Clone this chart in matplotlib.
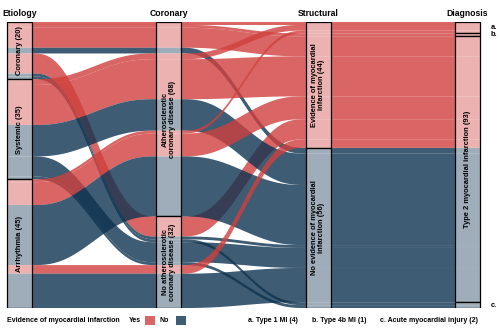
import matplotlib
matplotlib.use("Agg")
import matplotlib.pyplot as plt
from matplotlib.patches import Rectangle, Polygon
import numpy as np

plt.rcParams['font.family'] = ['Liberation Sans', 'DejaVu Sans']

# axes of the alluvial plot and their strata (top to bottom)
axis_titles = ['Etiology', 'Coronary', 'Structural', 'Diagnosis']
etiology_levels = ['Coronary', 'Systemic', 'Arrhythmia']
coronary_levels = ['Atherosclerotic', 'No atherosclerotic']
structural_levels = ['Yes', 'No']
diagnosis_levels = ['Type 1 MI', 'Type 4b MI', 'Type 2 MI', 'Acute myocardial injury']

stratum_labels = {
    ('Etiology', 'Coronary'): 'Coronary (20)',
    ('Etiology', 'Systemic'): 'Systemic (35)',
    ('Etiology', 'Arrhythmia'): 'Arrhythmia (45)',
    ('Coronary', 'Atherosclerotic'): 'Atherosclerotic\ncoronary disease (68)',
    ('Coronary', 'No atherosclerotic'): 'No atherosclerotic\ncoronary disease (32)',
    ('Structural', 'Yes'): 'Evidence of myocardial\ninfarction (44)',
    ('Structural', 'No'): 'No evidence of myocardial\ninfarction (56)',
    ('Diagnosis', 'Type 2 MI'): 'Type 2 myocardial infarction (93)',
}
side_labels = {'Type 1 MI': 'a.', 'Type 4b MI': 'b.', 'Acute myocardial injury': 'c.'}

# one entry per alluvium (patients sharing the same path)
etiology = ['Coronary', 'Coronary', 'Coronary', 'Coronary', 'Coronary', 'Coronary', 'Coronary',
            'Systemic', 'Systemic', 'Systemic', 'Systemic', 'Systemic',
            'Arrhythmia', 'Arrhythmia', 'Arrhythmia', 'Arrhythmia', 'Arrhythmia']
coronary = ['Atherosclerotic', 'Atherosclerotic', 'Atherosclerotic', 'Atherosclerotic',
            'No atherosclerotic', 'No atherosclerotic', 'No atherosclerotic',
            'Atherosclerotic', 'Atherosclerotic', 'Atherosclerotic', 'No atherosclerotic', 'No atherosclerotic',
            'Atherosclerotic', 'Atherosclerotic', 'Atherosclerotic', 'No atherosclerotic', 'No atherosclerotic']
structural = ['Yes', 'Yes', 'Yes', 'No', 'Yes', 'No', 'No',
              'Yes', 'Yes', 'No', 'No', 'No',
              'Yes', 'Yes', 'No', 'Yes', 'No']
diagnosis = ['Type 1 MI', 'Type 4b MI', 'Type 2 MI', 'Type 2 MI', 'Type 2 MI', 'Type 2 MI', 'Acute myocardial injury',
             'Type 1 MI', 'Type 2 MI', 'Type 2 MI', 'Type 2 MI', 'Acute myocardial injury',
             'Type 1 MI', 'Type 2 MI', 'Type 2 MI', 'Type 2 MI', 'Type 2 MI']
counts = [1, 1, 7, 2, 7, 1, 1,
          2, 14, 11, 7, 1,
          1, 8, 21, 3, 12]

red = '#D0403D'
blue = '#0E3350'
flow_alpha = 0.8

levels = [etiology_levels, coronary_levels, structural_levels, diagnosis_levels]
columns = [etiology, coronary, structural, diagnosis]
n = len(counts)
codes = np.array([[levels[k].index(columns[k][i]) for k in range(4)] for i in range(n)])

# lode ordering inside each stratum: zigzag over the other axes
guidance = {0: [1, 2, 3], 1: [0, 2, 3], 2: [3, 1, 0], 3: [2, 1, 0]}
tops = np.zeros((n, 4))
for k in range(4):
    idx = sorted(range(n), key=lambda i: (codes[i, k],) + tuple(codes[i, j] for j in guidance[k]))
    y = 0
    for i in idx:
        tops[i, k] = y
        y += counts[i]

xs = np.arange(1, 5)
w = 0.1675

fig = plt.figure(figsize=(5, 3.32), dpi=100)
ax = fig.add_axes([4.6 / 500, 1 - 308 / 332, 477.8 / 500, 286 / 332])
ax.set_xlim(0.9, 4.1)
ax.set_ylim(100, 0)
ax.axis('off')


def edge(ys):
    px, py = [], []
    for k in range(4):
        px += [xs[k] - w / 2, xs[k] + w / 2]
        py += [ys[k], ys[k]]
        if k < 3:
            t = np.linspace(0, 1, 60)[1:-1]
            s = t ** 3 * (10 - 15 * t + 6 * t ** 2)
            x0, x1 = xs[k] + w / 2, xs[k + 1] - w / 2
            px += list(x0 + (x1 - x0) * t)
            py += list(ys[k] + (ys[k + 1] - ys[k]) * s)
    return px, py


for i in range(n):
    tx, ty = edge(tops[i])
    bx, by = edge(tops[i] + counts[i])
    verts = list(zip(tx, ty)) + list(zip(bx[::-1], by[::-1]))
    col = red if structural[i] == 'Yes' else blue
    ax.add_patch(Polygon(verts, closed=True, facecolor=col, alpha=flow_alpha, lw=0))

# strata boxes
for k in range(4):
    y = 0
    for lev in levels[k]:
        size = sum(c for c, v in zip(counts, columns[k]) if v == lev)
        ax.add_patch(Rectangle((xs[k] - w / 2, y), w, size, facecolor='white', alpha=0.5, lw=0))
        ax.add_patch(Rectangle((xs[k] - w / 2, y), w, size, facecolor='none', edgecolor='black', lw=0.9))
        key = (axis_titles[k], lev)
        if key in stratum_labels:
            ax.text(xs[k], y + size / 2, stratum_labels[key], rotation=90, ha='center', va='center',
                    fontsize=5.4, fontweight='bold', linespacing=1.05)
        if k == 3 and lev in side_labels:
            ax.text(xs[k] + w / 2 + 0.07, y + size / 2, side_labels[lev], ha='left', va='center',
                    fontsize=5.4, fontweight='bold')
        y += size
    ax.text(xs[k], -2.8, axis_titles[k], ha='center', va='center', fontsize=6.2, fontweight='bold',
            clip_on=False)

# legend row
ly = 1 - 320 / 332
fig.text(7 / 500, ly, 'Evidence of myocardial infarction', fontsize=5, fontweight='bold', va='center')
fig.text(129 / 500, ly, 'Yes', fontsize=5, fontweight='bold', va='center')
fig.patches.append(Rectangle((145 / 500, ly - 4.5 / 332), 9.5 / 500, 9 / 332, transform=fig.transFigure,
                             facecolor=red, alpha=flow_alpha, lw=0))
fig.text(160 / 500, ly, 'No', fontsize=5, fontweight='bold', va='center')
fig.patches.append(Rectangle((176 / 500, ly - 4.5 / 332), 9.5 / 500, 9 / 332, transform=fig.transFigure,
                             facecolor=blue, alpha=flow_alpha, lw=0))
fig.text(248 / 500, ly, 'a. Type 1 MI (4)', fontsize=5, fontweight='bold', va='center')
fig.text(312 / 500, ly, 'b. Type 4b MI (1)', fontsize=5, fontweight='bold', va='center')
fig.text(380 / 500, ly, 'c. Acute myocardial injury (2)', fontsize=5, fontweight='bold', va='center')

fig.savefig('out.png', dpi=100)
